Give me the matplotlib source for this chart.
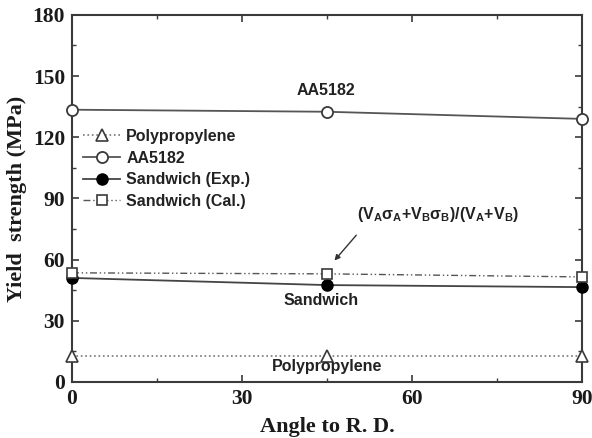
import numpy as np
import matplotlib.pyplot as plt
from matplotlib.ticker import MultipleLocator

# data
angles = [0, 45, 90]
polypropylene = [12.5, 12.5, 12.5]
aa5182 = [133.5, 132.5, 129.0]
sandwich_exp = [51.0, 47.5, 46.5]
sandwich_cal = [53.5, 53.0, 51.5]

serif = 'Liberation Serif'
sans = 'Liberation Sans'

plt.rcParams['mathtext.fontset'] = 'custom'
plt.rcParams['mathtext.rm'] = 'Liberation Sans:bold'
plt.rcParams['mathtext.it'] = 'Liberation Sans:bold'
plt.rcParams['mathtext.bf'] = 'Liberation Sans:bold'

fig = plt.figure(figsize=(5.92, 4.38), dpi=100)
ax = fig.add_axes([0.1216, 0.128, 0.8614, 0.838])

c = '#3a3a3a'
ax.plot(angles, polypropylene, ls=':', color='#777777', lw=1.2, marker='^',
        ms=8, mfc='white', mec=c, mew=1.2, clip_on=False, label='Polypropylene', zorder=3)
ax.plot(angles, aa5182, ls='-', color='#555555', lw=1.3, marker='o',
        ms=8, mfc='white', mec=c, mew=1.3, clip_on=False, label='AA5182', zorder=3)
ax.plot(angles, sandwich_exp, ls='-', color='#444444', lw=1.3, marker='o',
        ms=8, mfc='black', mec='black', clip_on=False, label='Sandwich (Exp.)', zorder=3)
ax.plot(angles, sandwich_cal, ls=(0, (5, 2, 1, 2, 1, 2)), color='#555555', lw=1.0,
        marker='s', ms=7.5, mfc='white', mec=c, mew=1.2, clip_on=False,
        label='Sandwich (Cal.)', zorder=4)

ax.set_xlim(0, 90)
ax.set_ylim(0, 180)
ax.xaxis.set_major_locator(MultipleLocator(30))
ax.xaxis.set_minor_locator(MultipleLocator(15))
ax.yaxis.set_major_locator(MultipleLocator(30))
ax.yaxis.set_minor_locator(MultipleLocator(15))
ax.tick_params(which='both', direction='in', top=True, right=True, color=c)
ax.tick_params(which='major', length=5, width=1.2, pad=5)
ax.tick_params(which='minor', length=3, width=1.0)
for s in ax.spines.values():
    s.set_linewidth(1.5)
    s.set_color(c)

for lab in ax.get_xticklabels() + ax.get_yticklabels():
    lab.set_fontfamily(serif)
    lab.set_fontweight('bold')
    lab.set_fontsize(15.5)
    lab.set_color('#1a1a1a')

ax.set_xlabel('Angle to R. D.', fontfamily=serif, fontweight='bold', fontsize=16,
              color='#1a1a1a', labelpad=6)
ax.set_ylabel('Yield  strength (MPa)', fontfamily=serif, fontweight='bold', fontsize=16,
              color='#1a1a1a', labelpad=4)

leg = ax.legend(loc='upper left', bbox_to_anchor=(0.0, 0.72), frameon=False,
                prop={'family': sans, 'weight': 'bold', 'size': 11.5},
                handlelength=2.3, handletextpad=0.4, labelspacing=0.42, borderaxespad=0.3)
for t in leg.get_texts():
    t.set_color('#222222')

tk = dict(fontfamily=sans, fontweight='bold', fontsize=11.5, color='#222222', ha='center')
ax.text(44.8, 143, 'AA5182', va='center', **tk)
ax.text(44.0, 40, 'Sandwich', va='center', **tk)
ax.text(45.0, 7.4, 'Polypropylene', va='center', **tk)
ax.text(64.6, 82, r'(V$_\mathrm{A}\sigma_\mathrm{A}$+V$_\mathrm{B}\sigma_\mathrm{B}$)/(V$_\mathrm{A}$+V$_\mathrm{B}$)',
        va='center', **tk)
ax.annotate('', xy=(46, 58.5), xytext=(50.5, 73),
            arrowprops=dict(arrowstyle='-|>', color='#333333', lw=1.0, mutation_scale=8))

fig.savefig('out.png', dpi=100)
